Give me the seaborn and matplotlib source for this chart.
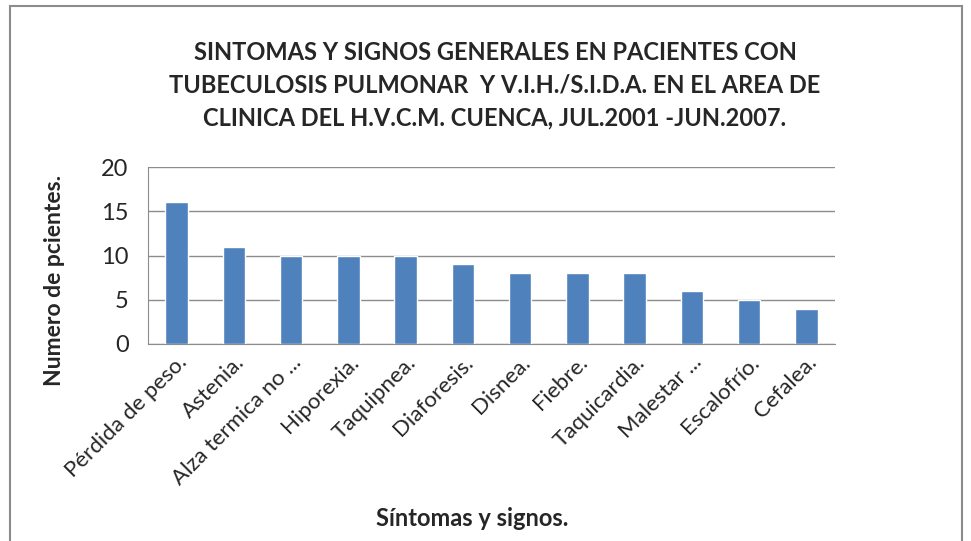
import matplotlib
matplotlib.use("Agg")
import matplotlib.pyplot as plt
import seaborn as sns
from matplotlib.patches import Rectangle

sintomas = ["Pérdida de peso.", "Astenia.", "Alza termica no ...", "Hiporexia.",
            "Taquipnea.", "Diaforesis.", "Disnea.", "Fiebre.", "Taquicardia.",
            "Malestar ...", "Escalofrío.", "Cefalea."]
pacientes = [16, 11, 10, 10, 10, 9, 8, 8, 8, 6, 5, 4]
y_ticks = [0, 5, 10, 15, 20]

titulo = ("SINTOMAS Y SIGNOS GENERALES EN PACIENTES CON\n"
          "TUBECULOSIS PULMONAR  Y V.I.H./S.I.D.A. EN EL AREA DE\n"
          "CLINICA DEL H.V.C.M. CUENCA, JUL.2001 -JUN.2007.")

sns.set_style("white")
plt.rcParams['font.family'] = ['Lato', 'DejaVu Sans']

fig = plt.figure(figsize=(9.71, 5.41), dpi=100)
ax = fig.add_axes([148 / 971, 1 - 344 / 541, (835 - 148) / 971, (344 - 167) / 541])

sns.barplot(x=sintomas, y=pacientes, color="#4F81BD", saturation=1,
            width=0.39, ax=ax)

ax.set_ylim(0, 20)
ax.set_xlim(-0.5, len(sintomas) - 0.5)
ax.set_yticks(y_ticks)
ax.yaxis.grid(True, color="#8C8C8C", linewidth=1)
ax.set_axisbelow(True)
for s in ["top", "right"]:
    ax.spines[s].set_visible(False)
ax.spines["left"].set_color("#8C8C8C")
ax.spines["bottom"].set_color("#8C8C8C")
ax.tick_params(axis="y", length=10, color="#8C8C8C", labelsize=17, pad=4)
ax.tick_params(axis="x", length=0, labelsize=16, pad=6)
plt.setp(ax.get_xticklabels(), rotation=45, ha="right", rotation_mode="anchor")

ax.set_ylabel("Numero de pcientes.", fontsize=16.5, fontweight="bold")
ax.yaxis.set_label_coords(-(148 - 65) / 687, -(280 - 344) / 177)
ax.set_xlabel("Síntomas y signos.", fontsize=17, fontweight="bold")
ax.xaxis.set_label_coords((472 - 148) / 687, -(507 - 344) / 177)

fig.text(495 / 971, 1 - 85 / 541, titulo, ha="center", va="center",
         fontsize=17, fontweight="bold", linespacing=1.5)

fig.patches.append(Rectangle((10 / 971, -0.05), 952 / 971, 1.05 - 6 / 541,
                             transform=fig.transFigure, fill=False,
                             edgecolor="#8C8C8C", linewidth=1.5))

fig.savefig("out.png", dpi=100)
